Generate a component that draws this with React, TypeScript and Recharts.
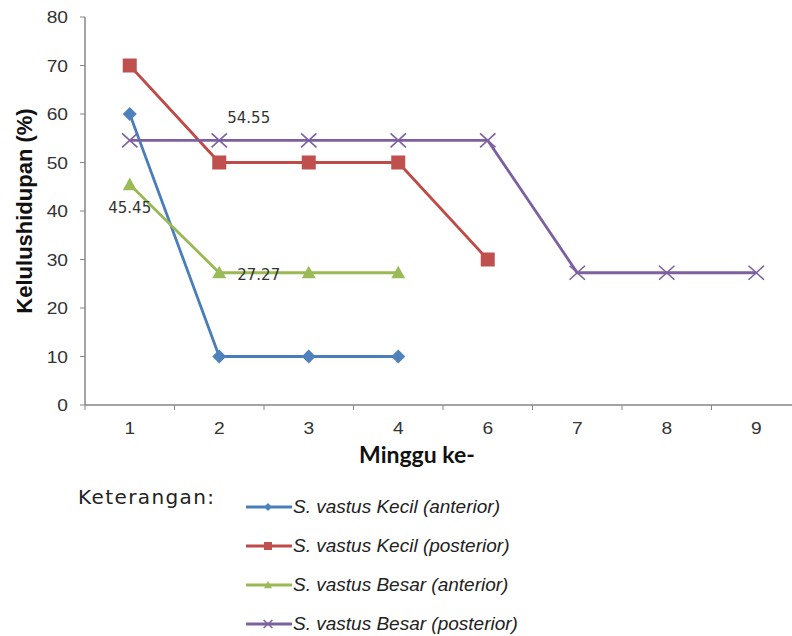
import React from "react";
import { LineChart, Line, XAxis, YAxis, LabelList } from "recharts";

const weeks = ["1", "2", "3", "4", "6", "7", "8", "9"];
const kecilAnterior = [60, 10, 10, 10, null, null, null, null];
const kecilPosterior = [70, 50, 50, 50, 30, null, null, null];
const besarAnterior = [45.45, 27.27, 27.27, 27.27, null, null, null, null];
const besarPosterior = [54.55, 54.55, 54.55, 54.55, 54.55, 27.27, 27.27, 27.27];
const yTicks = [0, 10, 20, 30, 40, 50, 60, 70, 80];

const series = [
	{ key: "kecilAnterior", name: "S. vastus Kecil (anterior)", line: "#4A7EBB", fill: "#4F81BD", shape: "diamond" },
	{ key: "kecilPosterior", name: "S. vastus Kecil (posterior)", line: "#BE4B48", fill: "#C0504D", shape: "square" },
	{ key: "besarAnterior", name: "S. vastus Besar (anterior)", line: "#98B954", fill: "#9BBB59", shape: "triangle" },
	{ key: "besarPosterior", name: "S. vastus Besar (posterior)", line: "#7D60A0", fill: "#8064A2", shape: "cross" },
];

const data = weeks.map((w, i) => ({
	week: w,
	kecilAnterior: kecilAnterior[i],
	kecilPosterior: kecilPosterior[i],
	besarAnterior: besarAnterior[i],
	besarPosterior: besarPosterior[i],
}));

const AXIS = "#868686";
const STEP = 89.5;
const tickFont = { fontSize: 16, fill: "#333", fontFamily: "Liberation Sans, Arial" };

function marker(shape: string, cx: number, cy: number, r: number, fill: string, stroke: string, key?: string) {
	if (shape === "diamond") {
		return <path key={key} d={`M${cx},${cy - r}L${cx + r},${cy}L${cx},${cy + r}L${cx - r},${cy}Z`} fill={fill} />;
	}
	if (shape === "square") {
		return <rect key={key} x={cx - r} y={cy - r} width={2 * r} height={2 * r} fill={fill} />;
	}
	if (shape === "triangle") {
		return <path key={key} d={`M${cx},${cy - r}L${cx + r},${cy + r * 0.8}L${cx - r},${cy + r * 0.8}Z`} fill={fill} />;
	}
	return (
		<path
			key={key}
			d={`M${cx - r * 1.1},${cy - r}L${cx + r * 1.1},${cy + r}M${cx - r * 1.1},${cy + r}L${cx + r * 1.1},${cy - r}`}
			stroke={stroke}
			strokeWidth={1.6}
			fill="none"
		/>
	);
}

const dotRenderer = (s: (typeof series)[number]) => (props: any) => {
	const { cx, cy, index, value } = props;
	const k = `${s.key}-${index}`;
	if (cx == null || cy == null || value == null) return <g key={k} />;
	return marker(s.shape, cx, cy, 7, s.fill, s.line, k);
};

// category ticks sit between the weeks, like the original spreadsheet chart
const XTick = (props: any) => {
	const { x, y, payload, index } = props;
	return (
		<g>
			<line x1={x - STEP / 2} x2={x - STEP / 2} y1={y} y2={y + 5} stroke={AXIS} />
			{index === weeks.length - 1 && <line x1={x + STEP / 2} x2={x + STEP / 2} y1={y} y2={y + 5} stroke={AXIS} />}
			<text transform={`translate(${x},${y + 29}) scale(1.2,1)`} textAnchor="middle" {...tickFont}>
				{payload.value}
			</text>
		</g>
	);
};

const YTick = (props: any) => {
	const { x, y, payload } = props;
	return (
		<text transform={`translate(${x},${y + 6}) scale(1.2,1)`} textAnchor="end" {...tickFont}>
			{payload.value}
		</text>
	);
};

const labelStyle = { fontSize: 15, fill: "#333", fontFamily: "DejaVu Sans, Verdana" };

// only a few points carry data labels in the original
const besarAnteriorLabel = (props: any) => {
	const { x, y, index, value } = props;
	if (index === 0)
		return (
			<text x={x} y={y + 28} textAnchor="middle" {...labelStyle}>
				{value}
			</text>
		);
	if (index === 1)
		return (
			<text x={x + 18} y={y + 7} {...labelStyle}>
				{value}
			</text>
		);
	return null;
};

const besarPosteriorLabel = (props: any) => {
	const { x, y, index, value } = props;
	if (index !== 1) return null;
	return (
		<text x={x + 8} y={y - 17} {...labelStyle}>
			{value}
		</text>
	);
};

export default function App() {
	return (
		<div style={{ position: "fixed", left: 0, top: 0, width: 792, height: 636, overflow: "hidden", background: "#fff" }}>
			<LineChart width={810} height={636} data={data} margin={{ top: 17, right: 9, bottom: 171, left: 0 }}>
				<XAxis
					dataKey="week"
					padding={{ left: STEP / 2, right: STEP / 2 }}
					tickLine={false}
					tickSize={0}
					tickMargin={0}
					height={60}
					axisLine={{ stroke: AXIS, strokeWidth: 1.5 }}
					tick={<XTick />}
					interval={0}
					label={{
						content: (p: any) => {
							const vb = p.viewBox;
							return (
								<text
									x={417}
									y={vb.y + 58}
									textAnchor="middle"
									fontSize={23}
									fontWeight="bold"
									fill="#111"
									fontFamily="Lato, Open Sans"
								>
									Minggu ke-
								</text>
							);
						},
					}}
				/>
				<YAxis
					width={85}
					domain={[0, 80]}
					ticks={yTicks}
					interval={0}
					tickSize={5}
					tickMargin={12}
					axisLine={{ stroke: AXIS, strokeWidth: 1.5 }}
					tickLine={{ stroke: AXIS }}
					tick={<YTick />}
					label={{
						content: (p: any) => {
							const vb = p.viewBox;
							const cx = 24;
							const cy = vb.y + vb.height / 2;
							return (
								<text
									x={cx}
									y={cy}
									transform={`rotate(-90 ${cx} ${cy})`}
									textAnchor="middle"
									dominantBaseline="central"
									fontSize={22}
									fontWeight="bold"
									fill="#111"
									fontFamily="Liberation Sans, Arial"
								>
									Kelulushidupan (%)
								</text>
							);
						},
					}}
				/>
				{series.map((s) => (
					<Line
						key={s.key}
						dataKey={s.key}
						name={s.name}
						type="linear"
						stroke={s.line}
						strokeWidth={2.8}
						dot={dotRenderer(s)}
						activeDot={false}
						isAnimationActive={false}
					>
						{s.key === "besarAnterior" && <LabelList dataKey={s.key} content={besarAnteriorLabel} />}
						{s.key === "besarPosterior" && <LabelList dataKey={s.key} content={besarPosteriorLabel} />}
					</Line>
				))}
			</LineChart>

			<div
				style={{
					position: "absolute",
					left: 78,
					top: 485,
					fontSize: 20,
					letterSpacing: 1.4,
					fontFamily: "DejaVu Sans, Verdana",
					color: "#222",
				}}
			>
				Keterangan:
			</div>
			<div style={{ position: "absolute", left: 246, top: 487 }}>
				{series.map((s) => (
					<div key={s.key} style={{ display: "flex", alignItems: "center", height: 39 }}>
						<svg width={46} height={14} style={{ display: "block" }}>
							<line x1={0} x2={46} y1={7} y2={7} stroke={s.line} strokeWidth={2.8} />
							{marker(s.shape, 22, 7, 4, s.fill, s.line)}
						</svg>
						<span
							style={{
								marginLeft: 1,
								fontSize: 19,
								fontStyle: "italic",
								fontFamily: "Liberation Sans, Arial",
								color: "#222",
								whiteSpace: "nowrap",
							}}
						>
							{s.name}
						</span>
					</div>
				))}
			</div>
		</div>
	);
}
